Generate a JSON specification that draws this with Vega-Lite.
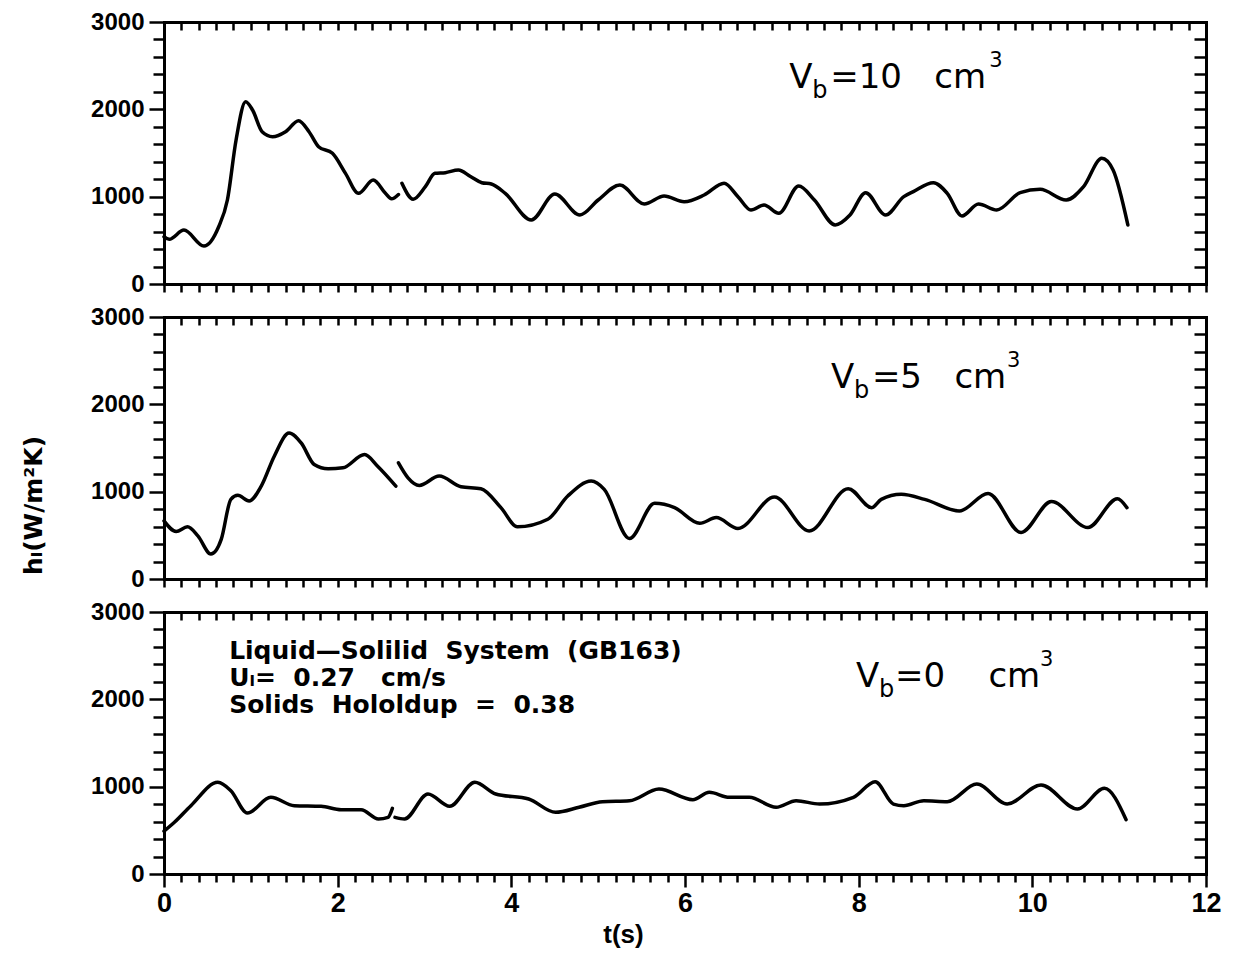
{
  "$schema": "https://vega.github.io/schema/vega-lite/v6.json",
  "background": "white",
  "padding": {"left": 21, "top": 10, "right": 10, "bottom": 5},
  "autosize": {"type": "pad"},
  "spacing": 33,
  "bounds": "flush",
  "config": {
    "view": {"stroke": null},
    "axis": {
      "grid": false,
      "domainColor": "black",
      "domainWidth": 3,
      "domainCap": "square",
      "tickColor": "black",
      "tickWidth": 2.5,
      "labelFont": "Liberation Sans",
      "labelFontWeight": "bold",
      "labelColor": "black",
      "titleColor": "black",
      "labelOverlap": false,
      "labelFlush": false
    }
  },
  "datasets": {
    "vb10": [
      {"t": 0, "h": 541, "seg": 1}, {"t": 0.06, "h": 512, "seg": 1}, {"t": 0.23, "h": 618, "seg": 1}, {"t": 0.46, "h": 435, "seg": 1},
      {"t": 0.63, "h": 656, "seg": 1}, {"t": 0.73, "h": 962, "seg": 1}, {"t": 0.83, "h": 1649, "seg": 1}, {"t": 0.94, "h": 2087, "seg": 1},
      {"t": 1.02, "h": 1992, "seg": 1}, {"t": 1.13, "h": 1744, "seg": 1}, {"t": 1.25, "h": 1687, "seg": 1}, {"t": 1.4, "h": 1744, "seg": 1},
      {"t": 1.55, "h": 1870, "seg": 1}, {"t": 1.67, "h": 1744, "seg": 1}, {"t": 1.78, "h": 1572, "seg": 1}, {"t": 1.94, "h": 1496, "seg": 1},
      {"t": 2.09, "h": 1267, "seg": 1}, {"t": 2.24, "h": 1038, "seg": 1}, {"t": 2.41, "h": 1190, "seg": 1}, {"t": 2.55, "h": 1038, "seg": 1},
      {"t": 2.62, "h": 975, "seg": 1}, {"t": 2.7, "h": 1025, "seg": 1},
      {"t": 2.74, "h": 1153, "seg": 2}, {"t": 2.87, "h": 970, "seg": 2}, {"t": 3.01, "h": 1114, "seg": 2}, {"t": 3.12, "h": 1267, "seg": 2},
      {"t": 3.24, "h": 1275, "seg": 2}, {"t": 3.39, "h": 1305, "seg": 2}, {"t": 3.53, "h": 1230, "seg": 2}, {"t": 3.66, "h": 1160, "seg": 2},
      {"t": 3.77, "h": 1145, "seg": 2}, {"t": 3.93, "h": 1038, "seg": 2}, {"t": 4.23, "h": 733, "seg": 2}, {"t": 4.5, "h": 1030, "seg": 2},
      {"t": 4.79, "h": 790, "seg": 2}, {"t": 5.0, "h": 962, "seg": 2}, {"t": 5.25, "h": 1133, "seg": 2}, {"t": 5.53, "h": 916, "seg": 2},
      {"t": 5.76, "h": 1008, "seg": 2}, {"t": 5.99, "h": 942, "seg": 2}, {"t": 6.22, "h": 1019, "seg": 2}, {"t": 6.45, "h": 1153, "seg": 2},
      {"t": 6.61, "h": 1000, "seg": 2}, {"t": 6.76, "h": 847, "seg": 2}, {"t": 6.91, "h": 905, "seg": 2}, {"t": 7.08, "h": 809, "seg": 2},
      {"t": 7.31, "h": 1122, "seg": 2}, {"t": 7.49, "h": 962, "seg": 2}, {"t": 7.73, "h": 676, "seg": 2}, {"t": 7.9, "h": 790, "seg": 2},
      {"t": 8.08, "h": 1046, "seg": 2}, {"t": 8.31, "h": 790, "seg": 2}, {"t": 8.52, "h": 1000, "seg": 2}, {"t": 8.63, "h": 1057, "seg": 2},
      {"t": 8.86, "h": 1160, "seg": 2}, {"t": 9.02, "h": 1038, "seg": 2}, {"t": 9.19, "h": 779, "seg": 2}, {"t": 9.38, "h": 916, "seg": 2},
      {"t": 9.59, "h": 847, "seg": 2}, {"t": 9.86, "h": 1046, "seg": 2}, {"t": 10.09, "h": 1084, "seg": 2}, {"t": 10.39, "h": 962, "seg": 2},
      {"t": 10.59, "h": 1114, "seg": 2}, {"t": 10.8, "h": 1439, "seg": 2}, {"t": 10.93, "h": 1305, "seg": 2}, {"t": 11.1, "h": 676, "seg": 2}
    ],
    "vb5": [
      {"t": 0, "h": 665, "seg": 1}, {"t": 0.14, "h": 544, "seg": 1}, {"t": 0.27, "h": 597, "seg": 1}, {"t": 0.39, "h": 494, "seg": 1},
      {"t": 0.54, "h": 285, "seg": 1}, {"t": 0.66, "h": 456, "seg": 1}, {"t": 0.77, "h": 912, "seg": 1}, {"t": 0.85, "h": 958, "seg": 1},
      {"t": 0.98, "h": 893, "seg": 1}, {"t": 1.12, "h": 1064, "seg": 1}, {"t": 1.27, "h": 1406, "seg": 1}, {"t": 1.44, "h": 1672, "seg": 1},
      {"t": 1.58, "h": 1558, "seg": 1}, {"t": 1.73, "h": 1311, "seg": 1}, {"t": 1.89, "h": 1262, "seg": 1}, {"t": 2.06, "h": 1273, "seg": 1},
      {"t": 2.31, "h": 1425, "seg": 1}, {"t": 2.46, "h": 1292, "seg": 1}, {"t": 2.67, "h": 1064, "seg": 1},
      {"t": 2.7, "h": 1330, "seg": 2}, {"t": 2.81, "h": 1159, "seg": 2}, {"t": 2.94, "h": 1072, "seg": 2}, {"t": 3.17, "h": 1178, "seg": 2},
      {"t": 3.42, "h": 1057, "seg": 2}, {"t": 3.65, "h": 1034, "seg": 2}, {"t": 3.88, "h": 817, "seg": 2}, {"t": 4.07, "h": 597, "seg": 2},
      {"t": 4.42, "h": 684, "seg": 2}, {"t": 4.65, "h": 950, "seg": 2}, {"t": 4.92, "h": 1121, "seg": 2}, {"t": 5.07, "h": 1026, "seg": 2},
      {"t": 5.36, "h": 464, "seg": 2}, {"t": 5.65, "h": 866, "seg": 2}, {"t": 5.88, "h": 817, "seg": 2}, {"t": 6.17, "h": 638, "seg": 2},
      {"t": 6.36, "h": 703, "seg": 2}, {"t": 6.61, "h": 578, "seg": 2}, {"t": 7.03, "h": 938, "seg": 2}, {"t": 7.43, "h": 551, "seg": 2},
      {"t": 7.88, "h": 1034, "seg": 2}, {"t": 8.15, "h": 817, "seg": 2}, {"t": 8.26, "h": 912, "seg": 2}, {"t": 8.49, "h": 969, "seg": 2},
      {"t": 8.76, "h": 912, "seg": 2}, {"t": 9.16, "h": 779, "seg": 2}, {"t": 9.49, "h": 980, "seg": 2}, {"t": 9.87, "h": 532, "seg": 2},
      {"t": 10.22, "h": 886, "seg": 2}, {"t": 10.64, "h": 589, "seg": 2}, {"t": 10.98, "h": 920, "seg": 2}, {"t": 11.09, "h": 817, "seg": 2}
    ],
    "vb0": [
      {"t": 0, "h": 490, "seg": 1}, {"t": 0.12, "h": 592, "seg": 1}, {"t": 0.31, "h": 782, "seg": 1}, {"t": 0.62, "h": 1050, "seg": 1},
      {"t": 0.77, "h": 954, "seg": 1}, {"t": 0.96, "h": 698, "seg": 1}, {"t": 1.23, "h": 878, "seg": 1}, {"t": 1.5, "h": 782, "seg": 1},
      {"t": 1.81, "h": 775, "seg": 1}, {"t": 2.04, "h": 736, "seg": 1}, {"t": 2.27, "h": 736, "seg": 1}, {"t": 2.47, "h": 630, "seg": 1},
      {"t": 2.58, "h": 649, "seg": 1}, {"t": 2.63, "h": 752, "seg": 1},
      {"t": 2.66, "h": 649, "seg": 2}, {"t": 2.77, "h": 630, "seg": 2}, {"t": 3.04, "h": 916, "seg": 2}, {"t": 3.29, "h": 775, "seg": 2},
      {"t": 3.58, "h": 1050, "seg": 2}, {"t": 3.82, "h": 916, "seg": 2}, {"t": 4.2, "h": 859, "seg": 2}, {"t": 4.51, "h": 706, "seg": 2},
      {"t": 4.78, "h": 764, "seg": 2}, {"t": 5.05, "h": 828, "seg": 2}, {"t": 5.36, "h": 839, "seg": 2}, {"t": 5.7, "h": 973, "seg": 2},
      {"t": 6.09, "h": 851, "seg": 2}, {"t": 6.28, "h": 935, "seg": 2}, {"t": 6.51, "h": 878, "seg": 2}, {"t": 6.74, "h": 878, "seg": 2},
      {"t": 7.05, "h": 764, "seg": 2}, {"t": 7.28, "h": 839, "seg": 2}, {"t": 7.55, "h": 801, "seg": 2}, {"t": 7.94, "h": 878, "seg": 2},
      {"t": 8.19, "h": 1057, "seg": 2}, {"t": 8.4, "h": 801, "seg": 2}, {"t": 8.52, "h": 782, "seg": 2}, {"t": 8.75, "h": 839, "seg": 2},
      {"t": 9.02, "h": 828, "seg": 2}, {"t": 9.36, "h": 1030, "seg": 2}, {"t": 9.71, "h": 801, "seg": 2}, {"t": 10.1, "h": 1019, "seg": 2},
      {"t": 10.52, "h": 744, "seg": 2}, {"t": 10.83, "h": 981, "seg": 2}, {"t": 11.08, "h": 622, "seg": 2}
    ]
  },
  "vconcat": [
    {
      "width": 1042,
      "height": 262,
      "layer": [
        {
          "data": {"name": "vb10"},
          "mark": {"type": "line", "interpolate": "monotone", "color": "black", "strokeWidth": 3.5, "strokeCap": "round", "strokeJoin": "round"},
          "encoding": {
            "x": {"field": "t", "type": "quantitative", "scale": {"domain": [0, 12], "nice": false},
              "axis": {"orient": "bottom", "title": null, "labels": false, "tickSize": 8, "tickCount": 61,
                "values": [0,0.2,0.4,0.6,0.8,1,1.2,1.4,1.6,1.8,2,2.2,2.4,2.6,2.8,3,3.2,3.4,3.6,3.8,4,4.2,4.4,4.6,4.8,5,5.2,5.4,5.6,5.8,6,6.2,6.4,6.6,6.8,7,7.2,7.4,7.6,7.8,8,8.2,8.4,8.6,8.8,9,9.2,9.4,9.6,9.8,10,10.2,10.4,10.6,10.8,11,11.2,11.4,11.6,11.8,12]}},
            "y": {"field": "h", "type": "quantitative", "scale": {"domain": [0, 3000], "nice": false},
              "axis": {"orient": "left", "title": null, "format": "d", "labelFontSize": 24, "labelPadding": 5, "labelOverlap": false, "tickCount": 16,
                "tickSize": {"condition": {"test": "abs(datum.value / 1000 - round(datum.value / 1000)) < 0.01", "value": 15}, "value": 11},
                "labelExpr": "abs(datum.value / 1000 - round(datum.value / 1000)) < 0.01 ? format(datum.value, 'd') : ''",
                "values": [0,200,400,600,800,1000,1200,1400,1600,1800,2000,2200,2400,2600,2800,3000]}},
            "detail": {"field": "seg"}
          }
        },
        {
          "data": {"values": [{}]},
          "mark": {"type": "text", "text": "V", "font": "DejaVu Sans", "fontSize": 34, "align": "left", "baseline": "alphabetic", "color": "black"},
          "encoding": {
            "x": {"datum": 7.2, "type": "quantitative",
              "axis": {"orient": "top", "title": null, "labels": false, "tickSize": -8, "tickCount": 61,
                "values": [0,0.2,0.4,0.6,0.8,1,1.2,1.4,1.6,1.8,2,2.2,2.4,2.6,2.8,3,3.2,3.4,3.6,3.8,4,4.2,4.4,4.6,4.8,5,5.2,5.4,5.6,5.8,6,6.2,6.4,6.6,6.8,7,7.2,7.4,7.6,7.8,8,8.2,8.4,8.6,8.8,9,9.2,9.4,9.6,9.8,10,10.2,10.4,10.6,10.8,11,11.2,11.4,11.6,11.8,12]}},
            "y": {"datum": 2244, "type": "quantitative",
              "axis": {"orient": "right", "title": null, "labels": false, "tickSize": -12, "tickCount": 16,
                "values": [0,200,400,600,800,1000,1200,1400,1600,1800,2000,2200,2400,2600,2800,3000]}}
          }
        },
        {
          "data": {"values": [{}]},
          "mark": {"type": "text", "text": "b", "font": "DejaVu Sans", "fontSize": 24, "align": "left", "baseline": "alphabetic", "dx": 23, "dy": 10, "color": "black"},
          "encoding": {"x": {"datum": 7.2, "type": "quantitative", "axis": null}, "y": {"datum": 2244, "type": "quantitative", "axis": null}}
        },
        {
          "data": {"values": [{}]},
          "mark": {"type": "text", "text": "=10\u00a0\u00a0\u00a0cm", "font": "DejaVu Sans", "fontSize": 34, "align": "left", "baseline": "alphabetic", "dx": 41, "color": "black"},
          "encoding": {"x": {"datum": 7.2, "type": "quantitative", "axis": null}, "y": {"datum": 2244, "type": "quantitative", "axis": null}}
        },
        {
          "data": {"values": [{}]},
          "mark": {"type": "text", "text": "3", "font": "DejaVu Sans", "fontSize": 21, "align": "left", "baseline": "alphabetic", "dx": 200, "dy": -21, "color": "black"},
          "encoding": {"x": {"datum": 7.2, "type": "quantitative", "axis": null}, "y": {"datum": 2244, "type": "quantitative", "axis": null}}
        }
      ],
      "resolve": {"axis": {"x": "independent", "y": "independent"}}
    },
    {
      "width": 1042,
      "height": 262,
      "layer": [
        {
          "data": {"name": "vb5"},
          "mark": {"type": "line", "interpolate": "monotone", "color": "black", "strokeWidth": 3.5, "strokeCap": "round", "strokeJoin": "round"},
          "encoding": {
            "x": {"field": "t", "type": "quantitative", "scale": {"domain": [0, 12], "nice": false},
              "axis": {"orient": "bottom", "title": null, "labels": false, "tickSize": 8, "tickCount": 61,
                "values": [0,0.2,0.4,0.6,0.8,1,1.2,1.4,1.6,1.8,2,2.2,2.4,2.6,2.8,3,3.2,3.4,3.6,3.8,4,4.2,4.4,4.6,4.8,5,5.2,5.4,5.6,5.8,6,6.2,6.4,6.6,6.8,7,7.2,7.4,7.6,7.8,8,8.2,8.4,8.6,8.8,9,9.2,9.4,9.6,9.8,10,10.2,10.4,10.6,10.8,11,11.2,11.4,11.6,11.8,12]}},
            "y": {"field": "h", "type": "quantitative", "scale": {"domain": [0, 3000], "nice": false},
              "axis": {"orient": "left", "format": "d", "labelFontSize": 24, "labelPadding": 5, "labelOverlap": false, "tickCount": 16,
                "title": "hₗ(W/m²K)", "titleFont": "DejaVu Sans", "titleFontWeight": "bold", "titleFontSize": 25,
                "titleX": -131, "titleY": 188, "titleAngle": -90, "titleAlign": "center", "titleBaseline": "middle",
                "tickSize": {"condition": {"test": "abs(datum.value / 1000 - round(datum.value / 1000)) < 0.01", "value": 15}, "value": 11},
                "labelExpr": "abs(datum.value / 1000 - round(datum.value / 1000)) < 0.01 ? format(datum.value, 'd') : ''",
                "values": [0,200,400,600,800,1000,1200,1400,1600,1800,2000,2200,2400,2600,2800,3000]}},
            "detail": {"field": "seg"}
          }
        },
        {
          "data": {"values": [{}]},
          "mark": {"type": "text", "text": "V", "font": "DejaVu Sans", "fontSize": 34, "align": "left", "baseline": "alphabetic", "color": "black"},
          "encoding": {
            "x": {"datum": 7.68, "type": "quantitative",
              "axis": {"orient": "top", "title": null, "labels": false, "tickSize": -8, "tickCount": 61,
                "values": [0,0.2,0.4,0.6,0.8,1,1.2,1.4,1.6,1.8,2,2.2,2.4,2.6,2.8,3,3.2,3.4,3.6,3.8,4,4.2,4.4,4.6,4.8,5,5.2,5.4,5.6,5.8,6,6.2,6.4,6.6,6.8,7,7.2,7.4,7.6,7.8,8,8.2,8.4,8.6,8.8,9,9.2,9.4,9.6,9.8,10,10.2,10.4,10.6,10.8,11,11.2,11.4,11.6,11.8,12]}},
            "y": {"datum": 2189, "type": "quantitative",
              "axis": {"orient": "right", "title": null, "labels": false, "tickSize": -12, "tickCount": 16,
                "values": [0,200,400,600,800,1000,1200,1400,1600,1800,2000,2200,2400,2600,2800,3000]}}
          }
        },
        {
          "data": {"values": [{}]},
          "mark": {"type": "text", "text": "b", "font": "DejaVu Sans", "fontSize": 24, "align": "left", "baseline": "alphabetic", "dx": 23, "dy": 10, "color": "black"},
          "encoding": {"x": {"datum": 7.68, "type": "quantitative", "axis": null}, "y": {"datum": 2189, "type": "quantitative", "axis": null}}
        },
        {
          "data": {"values": [{}]},
          "mark": {"type": "text", "text": "=5\u00a0\u00a0\u00a0cm", "font": "DejaVu Sans", "fontSize": 34, "align": "left", "baseline": "alphabetic", "dx": 41, "color": "black"},
          "encoding": {"x": {"datum": 7.68, "type": "quantitative", "axis": null}, "y": {"datum": 2189, "type": "quantitative", "axis": null}}
        },
        {
          "data": {"values": [{}]},
          "mark": {"type": "text", "text": "3", "font": "DejaVu Sans", "fontSize": 21, "align": "left", "baseline": "alphabetic", "dx": 176, "dy": -21, "color": "black"},
          "encoding": {"x": {"datum": 7.68, "type": "quantitative", "axis": null}, "y": {"datum": 2189, "type": "quantitative", "axis": null}}
        }
      ],
      "resolve": {"axis": {"x": "independent", "y": "independent"}}
    },
    {
      "width": 1042,
      "height": 262,
      "layer": [
        {
          "data": {"name": "vb0"},
          "mark": {"type": "line", "interpolate": "monotone", "color": "black", "strokeWidth": 3.5, "strokeCap": "round", "strokeJoin": "round"},
          "encoding": {
            "x": {"field": "t", "type": "quantitative", "scale": {"domain": [0, 12], "nice": false},
              "axis": {"orient": "bottom", "labelFontSize": 27, "labelPadding": 3, "labelOverlap": false, "labelFlush": false, "tickCount": 61,
                "title": "t(s)", "titleFont": "Liberation Sans", "titleFontWeight": "bold", "titleFontSize": 26,
                "titleX": 459, "titleY": 60, "titleAlign": "center", "titleBaseline": "middle",
                "tickSize": {"condition": {"test": "abs(datum.value / 2 - round(datum.value / 2)) < 0.01", "value": 13}, "value": 8},
                "labelExpr": "abs(datum.value / 2 - round(datum.value / 2)) < 0.01 ? format(round(datum.value), 'd') : ''",
                "values": [0,0.2,0.4,0.6,0.8,1,1.2,1.4,1.6,1.8,2,2.2,2.4,2.6,2.8,3,3.2,3.4,3.6,3.8,4,4.2,4.4,4.6,4.8,5,5.2,5.4,5.6,5.8,6,6.2,6.4,6.6,6.8,7,7.2,7.4,7.6,7.8,8,8.2,8.4,8.6,8.8,9,9.2,9.4,9.6,9.8,10,10.2,10.4,10.6,10.8,11,11.2,11.4,11.6,11.8,12]}},
            "y": {"field": "h", "type": "quantitative", "scale": {"domain": [0, 3000], "nice": false},
              "axis": {"orient": "left", "title": null, "format": "d", "labelFontSize": 24, "labelPadding": 5, "labelOverlap": false, "tickCount": 16,
                "tickSize": {"condition": {"test": "abs(datum.value / 1000 - round(datum.value / 1000)) < 0.01", "value": 15}, "value": 11},
                "labelExpr": "abs(datum.value / 1000 - round(datum.value / 1000)) < 0.01 ? format(datum.value, 'd') : ''",
                "values": [0,200,400,600,800,1000,1200,1400,1600,1800,2000,2200,2400,2600,2800,3000]}},
            "detail": {"field": "seg"}
          }
        },
        {
          "data": {"values": [{}]},
          "mark": {"type": "text", "text": "V", "font": "DejaVu Sans", "fontSize": 34, "align": "left", "baseline": "alphabetic", "color": "black"},
          "encoding": {
            "x": {"datum": 7.97, "type": "quantitative",
              "axis": {"orient": "top", "title": null, "labels": false, "tickSize": -8, "tickCount": 61,
                "values": [0,0.2,0.4,0.6,0.8,1,1.2,1.4,1.6,1.8,2,2.2,2.4,2.6,2.8,3,3.2,3.4,3.6,3.8,4,4.2,4.4,4.6,4.8,5,5.2,5.4,5.6,5.8,6,6.2,6.4,6.6,6.8,7,7.2,7.4,7.6,7.8,8,8.2,8.4,8.6,8.8,9,9.2,9.4,9.6,9.8,10,10.2,10.4,10.6,10.8,11,11.2,11.4,11.6,11.8,12]}},
            "y": {"datum": 2141, "type": "quantitative",
              "axis": {"orient": "right", "title": null, "labels": false, "tickSize": -12, "tickCount": 16,
                "values": [0,200,400,600,800,1000,1200,1400,1600,1800,2000,2200,2400,2600,2800,3000]}}
          }
        },
        {
          "data": {"values": [{}]},
          "mark": {"type": "text", "text": "b", "font": "DejaVu Sans", "fontSize": 24, "align": "left", "baseline": "alphabetic", "dx": 23, "dy": 10, "color": "black"},
          "encoding": {"x": {"datum": 7.97, "type": "quantitative", "axis": null}, "y": {"datum": 2141, "type": "quantitative", "axis": null}}
        },
        {
          "data": {"values": [{}]},
          "mark": {"type": "text", "text": "=0\u00a0\u00a0\u00a0\u00a0cm", "font": "DejaVu Sans", "fontSize": 34, "align": "left", "baseline": "alphabetic", "dx": 39, "color": "black"},
          "encoding": {"x": {"datum": 7.97, "type": "quantitative", "axis": null}, "y": {"datum": 2141, "type": "quantitative", "axis": null}}
        },
        {
          "data": {"values": [{}]},
          "mark": {"type": "text", "text": "3", "font": "DejaVu Sans", "fontSize": 21, "align": "left", "baseline": "alphabetic", "dx": 184, "dy": -21, "color": "black"},
          "encoding": {"x": {"datum": 7.97, "type": "quantitative", "axis": null}, "y": {"datum": 2141, "type": "quantitative", "axis": null}}
        },
        {
          "data": {"values": [{}]},
          "mark": {"type": "text", "text": ["Liquid—Solilid\u00a0\u00a0System\u00a0\u00a0(GB163)", "Uₗ=\u00a0\u00a00.27\u00a0\u00a0\u00a0cm/s", "Solids\u00a0\u00a0Hololdup\u00a0\u00a0=\u00a0\u00a00.38"], "font": "DejaVu Sans", "fontWeight": "bold", "fontSize": 25, "lineHeight": 27, "align": "left", "baseline": "alphabetic", "color": "black"},
          "encoding": {"x": {"datum": 0.75, "type": "quantitative", "axis": null}, "y": {"datum": 2462, "type": "quantitative", "axis": null}}
        }
      ],
      "resolve": {"axis": {"x": "independent", "y": "independent"}}
    }
  ]
}
